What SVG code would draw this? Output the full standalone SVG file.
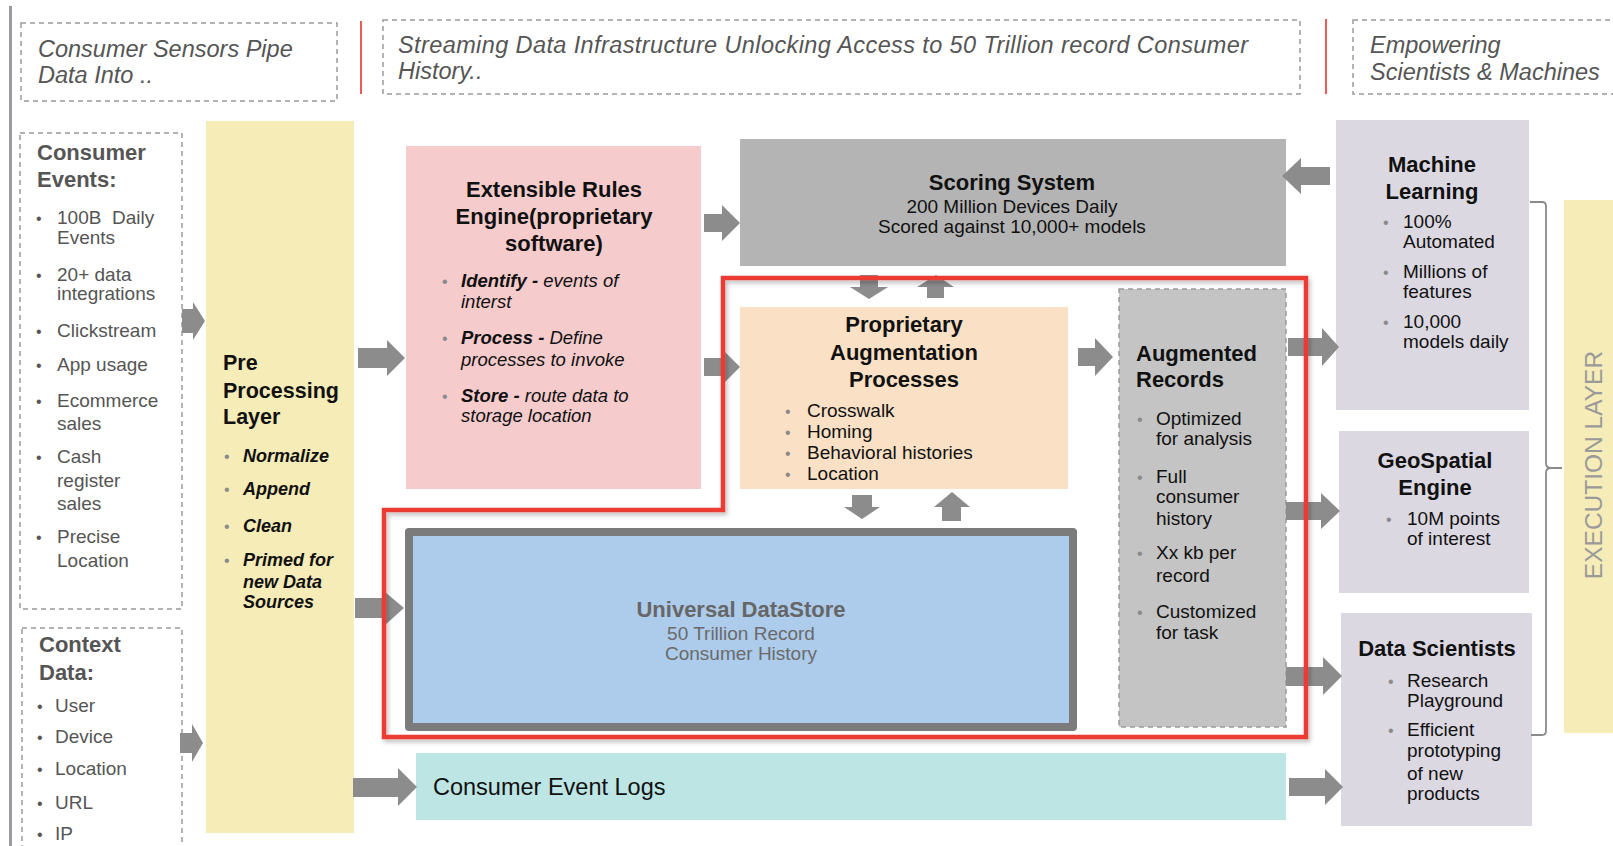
<svg xmlns="http://www.w3.org/2000/svg" width="1613" height="846" viewBox="0 0 1613 846">
  <defs>
    <style>
      text { font-family: "Liberation Sans", Arial, sans-serif; }
      .hdr { font-size: 23.5px; font-style: italic; fill: #555; }
      .dash { fill: none; stroke: #9a9a9a; stroke-width: 1.5; stroke-dasharray: 5 4; }
      .sep { stroke: #ee5a55; stroke-width: 2; }
      .src-h { font-size: 22px; font-weight: bold; fill: #555; }
      .src { font-size: 19px; fill: #555; }
      .ttl { font-size: 22px; font-weight: bold; fill: #111; text-anchor: middle; }
      .ttl-l { font-size: 22px; font-weight: bold; fill: #111; }
      .body { font-size: 19px; fill: #111; }
      .mid { text-anchor: middle; }
      .bul { font-size: 16px; fill: #8a8a8a; }
      .bul-d { font-size: 16px; fill: #555; }
      .arr { fill: #8c8c8c; }
      .red { fill: none; stroke: #ec3a30; stroke-width: 4.5; stroke-linejoin: miter; }
    </style>
    <filter id="shadow" x="-5%" y="-5%" width="110%" height="115%">
      <feDropShadow dx="2" dy="3" stdDeviation="2" flood-color="#000" flood-opacity="0.25"/>
    </filter>
  </defs>

  <rect width="1613" height="846" fill="#ffffff"/>

  <!-- left margin rule -->
  <rect x="9" y="6" width="3" height="840" fill="#9a9aa2"/>

  <!-- column headers -->
  <g id="header-sensors">
    <rect class="dash" x="21" y="23" width="316" height="78"/>
    <text class="hdr" x="38" y="57">Consumer Sensors Pipe</text>
    <text class="hdr" x="38" y="83">Data Into ..</text>
  </g>
  <line class="sep" x1="361" y1="21" x2="361" y2="94"/>
  <g id="header-streaming">
    <rect class="dash" x="383" y="20" width="917" height="74"/>
    <text class="hdr" x="398" y="53" textLength="850">Streaming Data Infrastructure Unlocking Access to 50 Trillion record Consumer</text>
    <text class="hdr" x="398" y="79">History..</text>
  </g>
  <line class="sep" x1="1326" y1="19" x2="1326" y2="94"/>
  <g id="header-empowering">
    <rect class="dash" x="1353" y="20" width="270" height="74"/>
    <text class="hdr" x="1370" y="53">Empowering</text>
    <text class="hdr" x="1370" y="80">Scientists &amp; Machines</text>
  </g>

  <!-- sources -->
  <g id="consumer-events">
    <rect class="dash" x="20" y="133" width="162" height="476"/>
    <text class="src-h" x="37" y="160">Consumer</text>
    <text class="src-h" x="37" y="187">Events:</text>
    <g class="bul-d">
      <text x="36" y="224">•</text>
      <text x="36" y="281">•</text>
      <text x="36" y="337">•</text>
      <text x="36" y="371">•</text>
      <text x="36" y="407">•</text>
      <text x="36" y="463">•</text>
      <text x="36" y="543">•</text>
    </g>
    <text class="src" x="57" y="224" xml:space="preserve">100B  Daily</text>
    <text class="src" x="57" y="244">Events</text>
    <text class="src" x="57" y="281">20+ data</text>
    <text class="src" x="57" y="300">integrations</text>
    <text class="src" x="57" y="337">Clickstream</text>
    <text class="src" x="57" y="371">App usage</text>
    <text class="src" x="57" y="407">Ecommerce</text>
    <text class="src" x="57" y="430">sales</text>
    <text class="src" x="57" y="463">Cash</text>
    <text class="src" x="57" y="487">register</text>
    <text class="src" x="57" y="510">sales</text>
    <text class="src" x="57" y="543">Precise</text>
    <text class="src" x="57" y="567">Location</text>
  </g>

  <g id="context-data">
    <rect class="dash" x="22" y="628" width="160" height="230"/>
    <text class="src-h" x="39" y="652">Context</text>
    <text class="src-h" x="39" y="680">Data:</text>
    <g class="bul-d">
      <text x="37" y="712">•</text>
      <text x="37" y="743">•</text>
      <text x="37" y="775">•</text>
      <text x="37" y="809">•</text>
      <text x="37" y="840">•</text>
    </g>
    <text class="src" x="55" y="712">User</text>
    <text class="src" x="55" y="743">Device</text>
    <text class="src" x="55" y="775">Location</text>
    <text class="src" x="55" y="809">URL</text>
    <text class="src" x="55" y="840">IP</text>
  </g>

  <g id="pre-processing">
    <rect x="206" y="121" width="148" height="712" fill="#f5ecb7"/>
    <text style="font-size:21.5px;font-weight:bold;fill:#111" x="223" y="370">Pre</text>
    <text style="font-size:21.5px;font-weight:bold;fill:#111" x="223" y="398">Processing</text>
    <text style="font-size:21.5px;font-weight:bold;fill:#111" x="223" y="424">Layer</text>
    <g class="bul">
      <text x="224" y="462">•</text>
      <text x="224" y="495">•</text>
      <text x="224" y="532">•</text>
      <text x="224" y="566">•</text>
    </g>
    <g style="font-size:18px;font-weight:bold;font-style:italic;fill:#111">
      <text x="243" y="462">Normalize</text>
      <text x="243" y="495">Append</text>
      <text x="243" y="532">Clean</text>
      <text x="243" y="566">Primed for</text>
      <text x="243" y="588">new Data</text>
      <text x="243" y="608">Sources</text>
    </g>
  </g>

  <g id="rules-engine">
    <rect x="406" y="146" width="295" height="343" fill="#f5cbcc"/>
    <text class="ttl" x="554" y="197">Extensible Rules</text>
    <text class="ttl" x="554" y="224">Engine(proprietary</text>
    <text class="ttl" x="554" y="251">software)</text>
    <g class="bul">
      <text x="442" y="287">•</text>
      <text x="442" y="344">•</text>
      <text x="442" y="402">•</text>
    </g>
    <g style="font-size:18.5px;font-style:italic;fill:#111">
      <text x="461" y="287"><tspan font-weight="bold">Identify -</tspan> events of</text>
      <text x="461" y="308">interst</text>
      <text x="461" y="344"><tspan font-weight="bold">Process -</tspan> Define</text>
      <text x="461" y="366">processes to invoke</text>
      <text x="461" y="402"><tspan font-weight="bold">Store -</tspan> route data to</text>
      <text x="461" y="422">storage location</text>
    </g>
  </g>

  <g id="scoring-system">
    <rect x="740" y="139" width="546" height="127" fill="#b4b4b4"/>
    <text class="ttl" x="1012" y="190">Scoring System</text>
    <text class="body mid" x="1012" y="213">200 Million Devices Daily</text>
    <text class="body mid" x="1012" y="233">Scored against 10,000+ models</text>
  </g>

  <g id="augmentation-processes">
    <rect x="740" y="307" width="328" height="182" fill="#fae0c5"/>
    <text class="ttl" x="904" y="332">Proprietary</text>
    <text class="ttl" x="904" y="360">Augmentation</text>
    <text class="ttl" x="904" y="387">Processes</text>
    <g class="bul">
      <text x="785" y="417">•</text>
      <text x="785" y="438">•</text>
      <text x="785" y="459">•</text>
      <text x="785" y="480">•</text>
    </g>
    <text class="body" x="807" y="417">Crosswalk</text>
    <text class="body" x="807" y="438">Homing</text>
    <text class="body" x="807" y="459">Behavioral histories</text>
    <text class="body" x="807" y="480">Location</text>
  </g>

  <g id="augmented-records">
    <rect x="1119" y="289" width="167" height="438" fill="#c4c4c4" stroke="#9a9a9a" stroke-width="1.5" stroke-dasharray="5 4"/>
    <text class="ttl-l" x="1136" y="361">Augmented</text>
    <text class="ttl-l" x="1136" y="387">Records</text>
    <g class="bul">
      <text x="1137" y="425">•</text>
      <text x="1137" y="483">•</text>
      <text x="1137" y="559">•</text>
      <text x="1137" y="618">•</text>
    </g>
    <text class="body" x="1156" y="425">Optimized</text>
    <text class="body" x="1156" y="445">for analysis</text>
    <text class="body" x="1156" y="483">Full</text>
    <text class="body" x="1156" y="503">consumer</text>
    <text class="body" x="1156" y="525">history</text>
    <text class="body" x="1156" y="559">Xx kb per</text>
    <text class="body" x="1156" y="582">record</text>
    <text class="body" x="1156" y="618">Customized</text>
    <text class="body" x="1156" y="639">for task</text>
  </g>

  <g id="universal-datastore">
    <rect x="405" y="528" width="672" height="203" rx="4" fill="#7b7b7b"/>
    <rect x="413" y="536" width="656" height="187" fill="#adcbea"/>
    <text class="mid" style="font-size:22px;font-weight:bold;fill:#666" x="741" y="617">Universal DataStore</text>
    <text class="mid" style="font-size:19px;fill:#6a6a6a" x="741" y="640">50 Trillion Record</text>
    <text class="mid" style="font-size:19px;fill:#6a6a6a" x="741" y="660">Consumer History</text>
  </g>

  <g id="consumer-event-logs">
    <rect x="416" y="753" width="870" height="67" fill="#bde5e4"/>
    <text style="font-size:23.5px;fill:#111" x="433" y="795">Consumer Event Logs</text>
  </g>

  <g id="machine-learning">
    <rect x="1336" y="120" width="193" height="290" fill="#dcd8e1"/>
    <text class="ttl" x="1432" y="172">Machine</text>
    <text class="ttl" x="1432" y="199">Learning</text>
    <g class="bul">
      <text x="1383" y="228">•</text>
      <text x="1383" y="278">•</text>
      <text x="1383" y="328">•</text>
    </g>
    <text class="body" x="1403" y="228">100%</text>
    <text class="body" x="1403" y="248">Automated</text>
    <text class="body" x="1403" y="278">Millions of</text>
    <text class="body" x="1403" y="298">features</text>
    <text class="body" x="1403" y="328">10,000</text>
    <text class="body" x="1403" y="348">models daily</text>
  </g>

  <g id="geospatial-engine">
    <rect x="1339" y="431" width="190" height="162" fill="#dcd8e1"/>
    <text class="ttl" x="1435" y="468">GeoSpatial</text>
    <text class="ttl" x="1435" y="495">Engine</text>
    <text class="bul" x="1386" y="525">•</text>
    <text class="body" x="1407" y="525">10M points</text>
    <text class="body" x="1407" y="545">of interest</text>
  </g>

  <g id="data-scientists">
    <rect x="1341" y="613" width="191" height="213" fill="#dcd8e1"/>
    <text class="ttl" x="1437" y="656">Data Scientists</text>
    <g class="bul">
      <text x="1388" y="687">•</text>
      <text x="1388" y="736">•</text>
    </g>
    <text class="body" x="1407" y="687">Research</text>
    <text class="body" x="1407" y="707">Playground</text>
    <text class="body" x="1407" y="736">Efficient</text>
    <text class="body" x="1407" y="757">prototyping</text>
    <text class="body" x="1407" y="780">of new</text>
    <text class="body" x="1407" y="800">products</text>
  </g>

  <g id="execution-layer">
    <rect x="1564" y="200" width="60" height="533" fill="#f5ecb7"/>
    <text transform="translate(1602,465) rotate(-90)" text-anchor="middle" style="font-size:24.5px;fill:#9a9a9a">EXECUTION LAYER</text>
  </g>

  <!-- block arrows between stages -->
  <g id="connectors" class="arr">
    <polygon points="182,309 193,309 193,302 205,321 193,340 193,333 182,333"/>
    <polygon points="180,733 192,733 192,724 203,743 192,762 192,753 180,753"/>
    <polygon points="358,348 387,348 387,340 405,358 387,376 387,368 358,368"/>
    <polygon points="355,598 385,598 385,592 404,608 385,625 385,618 355,618"/>
    <polygon points="704,214 722,214 722,205 740,223 722,241 722,232 704,232"/>
    <polygon points="704,358 722,358 722,349 740,367 722,385 722,376 704,376"/>
    <polygon points="860,275 878,275 878,287 888,287 869,299 850,287 860,287"/>
    <polygon points="936,275 954,287 944,287 944,298 927,298 927,287 917,287"/>
    <polygon points="1078,348 1095,348 1095,338 1113,357 1095,376 1095,366 1078,366"/>
    <polygon points="852,495 872,495 872,507 880,507 862,519 844,507 852,507"/>
    <polygon points="952,492 970,507 961,507 961,521 942,521 942,507 934,507"/>
    <polygon points="1288,338 1322,338 1322,328 1339,347 1322,366 1322,356 1288,356"/>
    <polygon points="1286,502 1321,502 1321,493 1340,511 1321,529 1321,520 1286,520"/>
    <polygon points="1286,667 1323,667 1323,657 1342,676 1323,695 1323,686 1286,686"/>
    <polygon points="353,778 398,778 398,768 417,787 398,806 398,797 353,797"/>
    <polygon points="1289,778 1325,778 1325,769 1343,787 1325,805 1325,796 1289,796"/>
    <polygon points="1282,176 1301,158 1301,167 1330,167 1330,185 1301,185 1301,194"/>
  </g>

  <!-- execution-layer bracket -->
  <path d="M1530,202 H1542 Q1546,202 1546,206 V463 Q1546,468 1551,468 H1562 M1551,468 Q1546,468 1546,473 V731 Q1546,735 1542,735 H1531" fill="none" stroke="#8a8a8a" stroke-width="1.8"/>

  <!-- highlighted core-platform outline -->
  <polygon class="red" filter="url(#shadow)" points="723,278 1306,278 1306,737 384,737 384,510 723,510"/>
</svg>
